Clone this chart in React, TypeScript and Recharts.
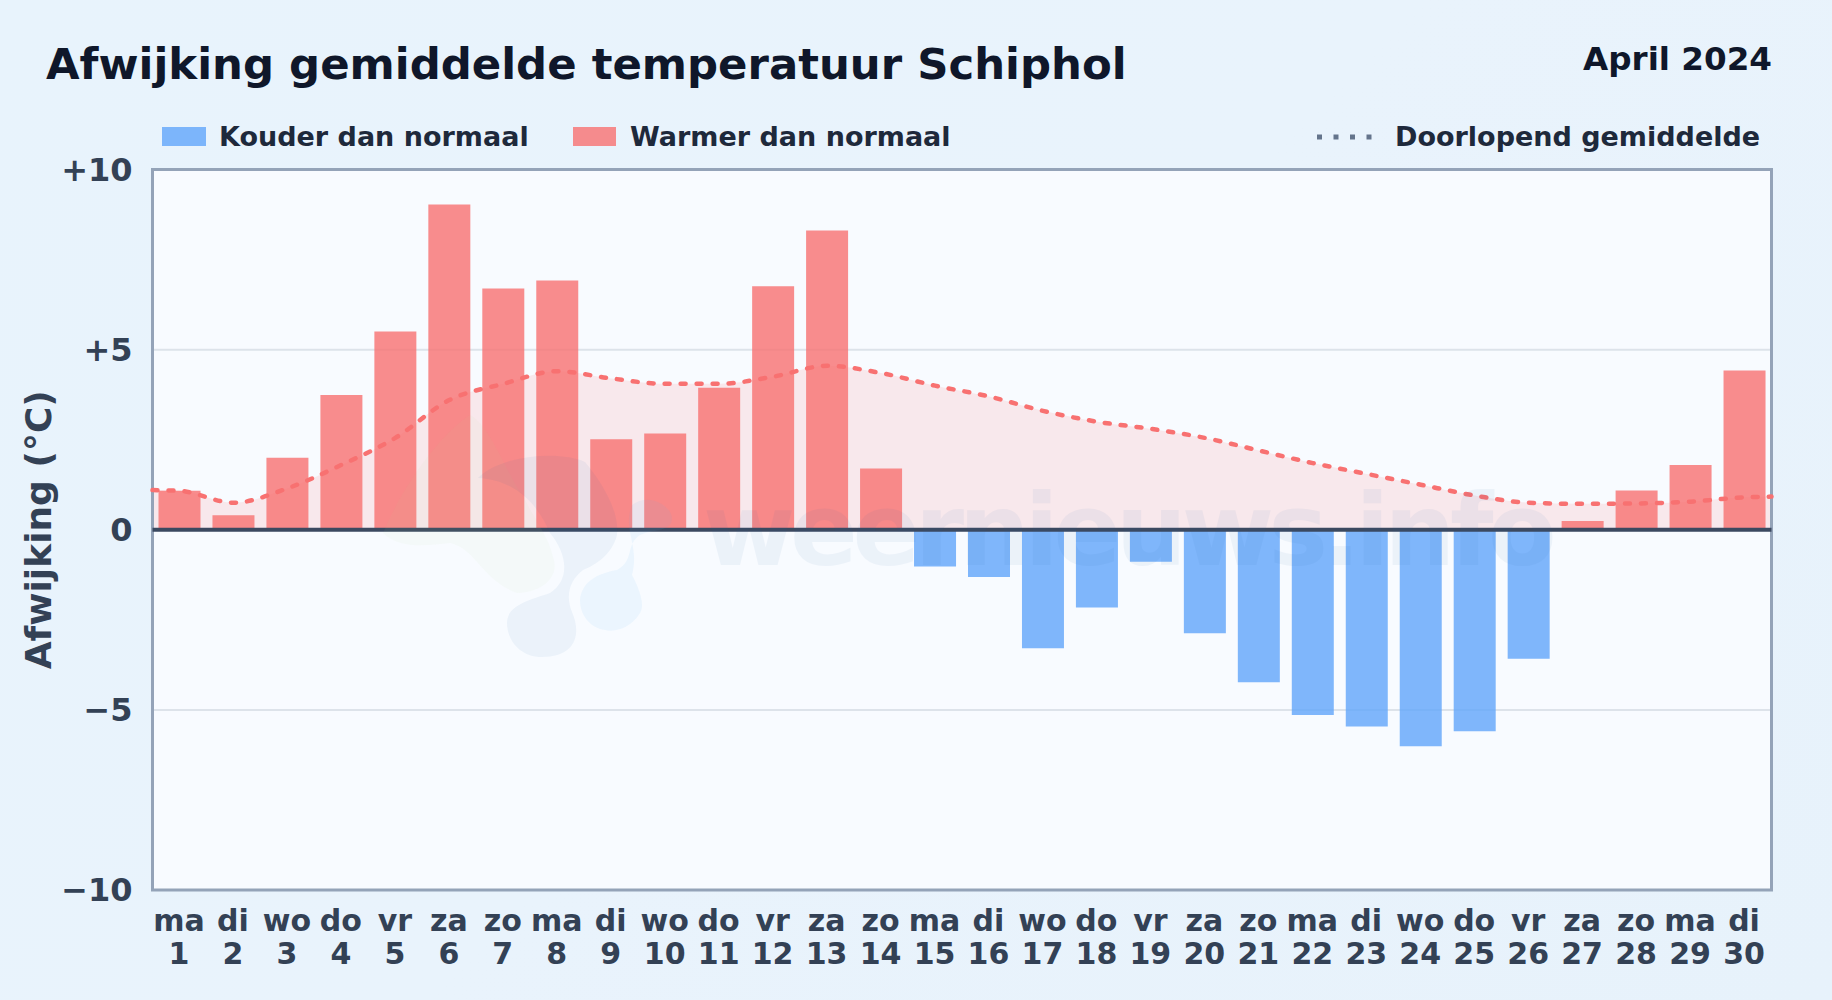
import {
  Area,
  Bar,
  CartesianGrid,
  Cell,
  ComposedChart,
  Line,
  ReferenceArea,
  ReferenceLine,
  XAxis,
  YAxis,
} from "recharts";

const days = [
  1, 2, 3, 4, 5, 6, 7, 8, 9, 10, 11, 12, 13, 14, 15, 16, 17, 18, 19, 20, 21, 22, 23, 24, 25, 26, 27,
  28, 29, 30,
];
const weekdays = [
  "ma", "di", "wo", "do", "vr", "za", "zo", "ma", "di", "wo", "do", "vr", "za", "zo", "ma", "di",
  "wo", "do", "vr", "za", "zo", "ma", "di", "wo", "do", "vr", "za", "zo", "ma", "di",
];
const deviation = [
  1.08, 0.4, 2.0, 3.74, 5.5, 9.03, 6.7, 6.92, 2.51, 2.67, 3.94, 6.76, 8.31, 1.7, -1.02, -1.31,
  -3.29, -2.16, -0.89, -2.87, -4.23, -5.14, -5.46, -6.01, -5.59, -3.58, 0.24, 1.09, 1.8, 4.42,
];
const runningMean = [
  1.08, 0.75, 1.15, 1.8, 2.55, 3.6, 4.05, 4.4, 4.2, 4.05, 4.05, 4.25, 4.55, 4.35, 4.0, 3.7, 3.3,
  3.0, 2.8, 2.55, 2.2, 1.85, 1.55, 1.25, 0.95, 0.75, 0.72, 0.73, 0.78, 0.9,
];
// the curve runs on to both edges of the plot
const edgeMean = { start: 1.1, end: 0.92 };
const yTicks = [-10, -5, 0, 5, 10];

const barData = days.map((day, i) => ({ day, dev: deviation[i] }));
const meanData = [
  { pos: 0.5, mean: edgeMean.start },
  ...days.map((day, i) => ({ pos: day, mean: runningMean[i] })),
  { pos: 30.5, mean: edgeMean.end },
];

const FONT = "'DejaVu Sans', sans-serif";
const RED = "#f87171";
const BLUE = "#60a5fa";

function formatY(v: number) {
  if (v > 0) return `+${v}`;
  if (v < 0) return `\u2212${Math.abs(v)}`;
  return "0";
}

function DayTick({ x, y, payload }: any) {
  const day = payload.value;
  return (
    <text x={x} textAnchor="middle" fontFamily={FONT} fontWeight="bold" fontSize={30} fill="#334155">
      <tspan x={x - 0.5} y={y + 33}>
        {weekdays[day - 1]}
      </tspan>
      <tspan x={x - 0.5} y={y + 66}>
        {day}
      </tspan>
    </text>
  );
}

function Watermark() {
  return (
    <svg
      width={1832}
      height={1000}
      style={{ position: "absolute", left: 0, top: 0, pointerEvents: "none" }}
    >
      <path
        d="M383 533 C400 550 430 545 450 543 C475 548 482 580 517 593 C545 592 560 575 553 557 C548 535 535 520 525 500 C505 470 490 425 470 415 C445 430 405 480 383 533 Z"
        fill="#b7dc8c"
        opacity={0.05}
      />
      <path
        d="M507 623 C507 605 530 600 550 593 C570 580 568 555 550 533 C540 510 520 480 478 478 C500 455 560 450 585 462 C600 480 620 510 617 535 C612 555 595 565 583 570 C570 580 565 595 572 612 C582 635 575 657 542 657 C520 657 507 640 507 623 Z"
        fill="#2563a8"
        opacity={0.06}
      />
      <path
        d="M580 600 C582 580 600 573 617 570 C635 560 625 545 640 535 C650 530 662 532 670 525 C680 510 650 490 632 505 C622 530 640 545 632 575 C640 590 645 605 640 613 C630 630 612 632 605 630 C590 628 580 615 580 600 Z"
        fill="#5cb3f0"
        opacity={0.08}
      />
      <text
        x={703}
        y={565}
        fontFamily="'DejaVu Sans', sans-serif"
        fontWeight="bold"
        fontSize={100}
        letterSpacing={-5.4}
        fill="#2563a8"
        opacity={0.055}
      >
        weernieuws.info
      </text>
    </svg>
  );
}

export default function App() {
  return (
    <div
      style={{
        position: "absolute",
        left: 0,
        top: 0,
        width: 1832,
        height: 1000,
        background: "linear-gradient(135deg, #e8f3fc 0%, #e9f3fc 50%, #e7f2fb 100%)",
        fontFamily: FONT,
        overflow: "hidden",
      }}
    >
      <div
        style={{
          position: "absolute",
          left: 46,
          top: 39,
          fontSize: 43.4,
          fontWeight: "bold",
          color: "#0f172a",
          whiteSpace: "nowrap",
        }}
      >
        Afwijking gemiddelde temperatuur Schiphol
      </div>
      <div
        style={{
          position: "absolute",
          right: 60,
          top: 40,
          fontSize: 32.6,
          fontWeight: "bold",
          color: "#0f172a",
          whiteSpace: "nowrap",
        }}
      >
        April 2024
      </div>

      {/* legend */}
      <div style={{ position: "absolute", left: 162, top: 127, width: 44, height: 19, background: BLUE, opacity: 0.8 }} />
      <div style={legendText(219)}>Kouder dan normaal</div>
      <div style={{ position: "absolute", left: 573, top: 127, width: 43, height: 19, background: RED, opacity: 0.8 }} />
      <div style={legendText(630)}>Warmer dan normaal</div>
      <svg width={60} height={10} style={{ position: "absolute", left: 1316, top: 132 }}>
        <line x1={1} y1={5} x2={58} y2={5} stroke="#64748b" strokeWidth={5} strokeDasharray="5 11.5" />
      </svg>
      <div style={legendText(1395)}>Doorlopend gemiddelde</div>

      <div style={{ position: "absolute", left: 0, top: 0 }}>
        <ComposedChart
          width={1832}
          height={1000}
          data={barData}
          margin={{ top: 169.5, right: 60.5, bottom: 0, left: 0 }}
        >
          <CartesianGrid
            vertical={false}
            stroke="#dde3ea"
            strokeWidth={2}
            fill="#f8fbff"
            fillOpacity={1}
          />
          <XAxis
            xAxisId="cat"
            dataKey="day"
            type="category"
            interval={0}
            height={110}
            axisLine={false}
            tickLine={false}
            tick={<DayTick />}
          />
          <XAxis xAxisId="num" dataKey="pos" type="number" domain={[0.5, 30.5]} hide />
          <YAxis
            type="number"
            domain={[-10, 10]}
            ticks={yTicks}
            width={152.5}
            axisLine={false}
            tickLine={false}
            tickMargin={14}
            tickFormatter={formatY}
            tick={{ fontFamily: FONT, fontWeight: "bold", fontSize: 32, fill: "#334155" }}
            label={{
              value: "Afwijking (°C)",
              angle: -90,
              position: "insideLeft",
              offset: 38,
              style: {
                fontFamily: FONT,
                fontWeight: "bold",
                fontSize: 36,
                fill: "#334155",
                textAnchor: "middle",
              },
            }}
          />
          <Area
            xAxisId="num"
            data={meanData}
            dataKey="mean"
            type="monotone"
            baseValue={0}
            stroke="none"
            fill="#f87a7a"
            fillOpacity={0.14}
            isAnimationActive={false}
          />
          <Bar xAxisId="cat" dataKey="dev" barSize={42} isAnimationActive={false}>
            {barData.map((row) => (
              <Cell key={row.day} fill={row.dev < 0 ? BLUE : RED} fillOpacity={0.8} />
            ))}
          </Bar>
          <ReferenceLine xAxisId="num" y={0} stroke="#3b4960" strokeWidth={4} />
          <Line
            xAxisId="num"
            data={meanData}
            dataKey="mean"
            type="monotone"
            stroke={RED}
            strokeWidth={4.5}
            strokeDasharray="5 11"
            strokeLinecap="round"
            dot={false}
            activeDot={false}
            isAnimationActive={false}
          />
          <ReferenceArea
            xAxisId="num"
            x1={0.5}
            x2={30.5}
            y1={-10}
            y2={10}
            fill="none"
            stroke="#94a3b8"
            strokeWidth={3}
          />
        </ComposedChart>
      </div>
      <Watermark />
    </div>
  );
}

function legendText(left: number): React.CSSProperties {
  return {
    position: "absolute",
    left,
    top: 121,
    fontSize: 27,
    fontWeight: "bold",
    color: "#1e293b",
    whiteSpace: "nowrap",
  };
}
